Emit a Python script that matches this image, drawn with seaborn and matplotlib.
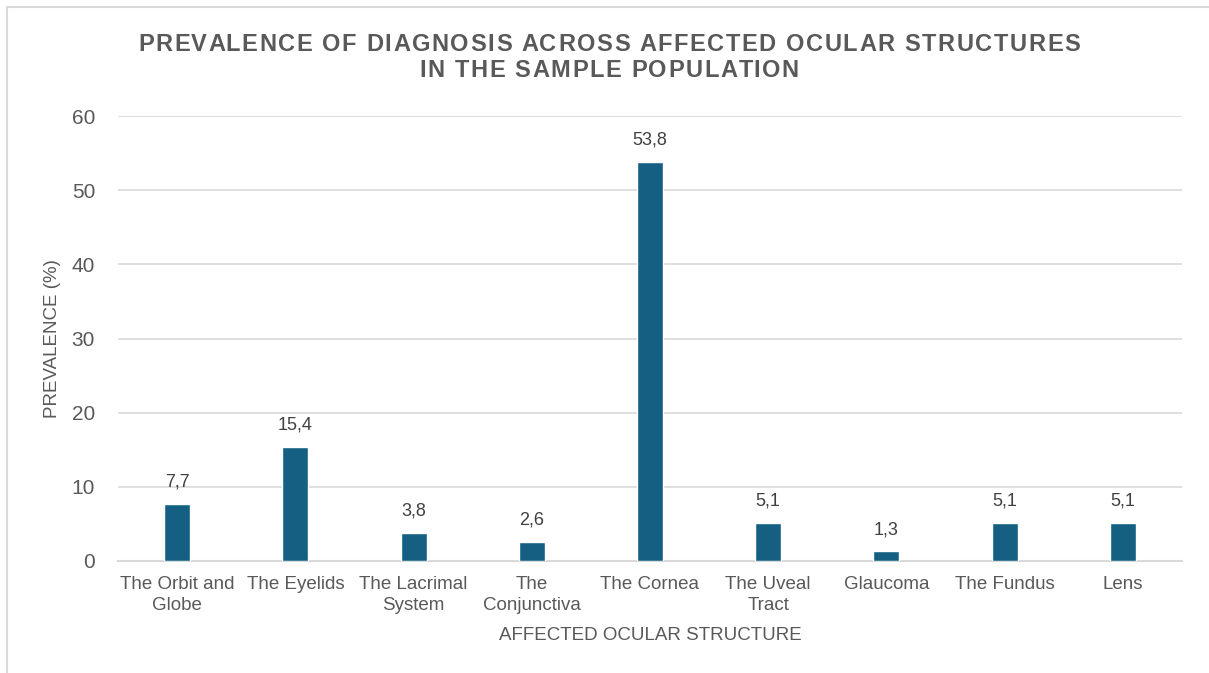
import matplotlib
matplotlib.use("Agg")
import matplotlib.pyplot as plt
import seaborn as sns
import pandas as pd
from matplotlib.patches import Rectangle

categories = ["The Orbit and\nGlobe", "The Eyelids", "The Lacrimal\nSystem", "The\nConjunctiva",
              "The Cornea", "The Uveal\nTract", "Glaucoma", "The Fundus", "Lens"]
prevalence = [7.7, 15.4, 3.8, 2.6, 53.8, 5.1, 1.3, 5.1, 5.1]
y_ticks = [0, 10, 20, 30, 40, 50, 60]
title_lines = ["PREVALENCE OF DIAGNOSIS ACROSS AFFECTED OCULAR STRUCTURES",
               "IN THE SAMPLE POPULATION"]

df = pd.DataFrame({"structure": categories, "prevalence": prevalence})

sns.set_theme(style="white")
plt.rcParams["font.family"] = ["Liberation Sans", "DejaVu Sans"]

text_color = "#595959"
bar_color = "#156082"
grid_color = "#d9d9d9"

W, H = 1209, 673
fig = plt.figure(figsize=(W / 100, H / 100), dpi=100)
ax = fig.add_axes([118 / W, 1 - 561 / H, (1182 - 118) / W, (561 - 116) / H])

sns.barplot(data=df, x="structure", y="prevalence", color=bar_color, width=0.22,
            saturation=1, ax=ax, zorder=3)

ax.set_ylim(0, 60)
ax.set_yticks(y_ticks)
ax.set_xlim(-0.5, len(categories) - 0.5)
ax.yaxis.grid(True, color=grid_color, linewidth=1.2, zorder=0)
for s in ["top", "right", "left"]:
    ax.spines[s].set_visible(False)
ax.spines["bottom"].set_color(grid_color)
ax.spines["bottom"].set_linewidth(1.5)
ax.tick_params(axis="y", labelsize=15, labelcolor=text_color, length=0, pad=16.5)
ax.tick_params(axis="x", labelsize=13.5, labelcolor=text_color, length=0, pad=11)
for lbl in ax.get_xticklabels():
    lbl.set_linespacing(1.25)

for i, v in enumerate(prevalence):
    ax.annotate(f"{v:.1f}".replace(".", ","), (i, v), xytext=(0, 9.5), textcoords="offset points",
                ha="center", va="bottom", fontsize=13, color="#404040")

ax.set_xlabel("AFFECTED OCULAR STRUCTURE", fontsize=13.5, color=text_color, labelpad=10)
ax.set_ylabel("PREVALENCE (%)", fontsize=13.5, color=text_color, labelpad=8)

# Title drawn with letter tracking, one character at a time
renderer = fig.canvas.get_renderer()
title_kw = dict(fontsize=17, fontweight="bold", color=text_color)
tracking_px = 1.6


def text_width(s):
    t = fig.text(0, 0, s, **title_kw)
    w = t.get_window_extent(renderer).width
    t.remove()
    return w


ref_w = text_width("H")
center_x = 609
for line, yc in zip(title_lines, [44.5, 70.5]):
    n = len(line)
    total = text_width(line) + (n - 1) * tracking_px
    x0 = center_x - total / 2
    for i, ch in enumerate(line):
        if ch == " ":
            continue
        left = text_width(line[:i] + "H") - ref_w if i > 0 else 0
        fig.text((x0 + left + i * tracking_px) / W, 1 - yc / H, ch,
                 ha="left", va="center", **title_kw)

# chart frame
fig.patches.append(Rectangle((7 / W, -0.05), 1.1, (H - 7) / H + 0.05, transform=fig.transFigure,
                             fill=False, edgecolor="#d9d9d9", linewidth=1.5))

fig.savefig("out.png", dpi=100)
